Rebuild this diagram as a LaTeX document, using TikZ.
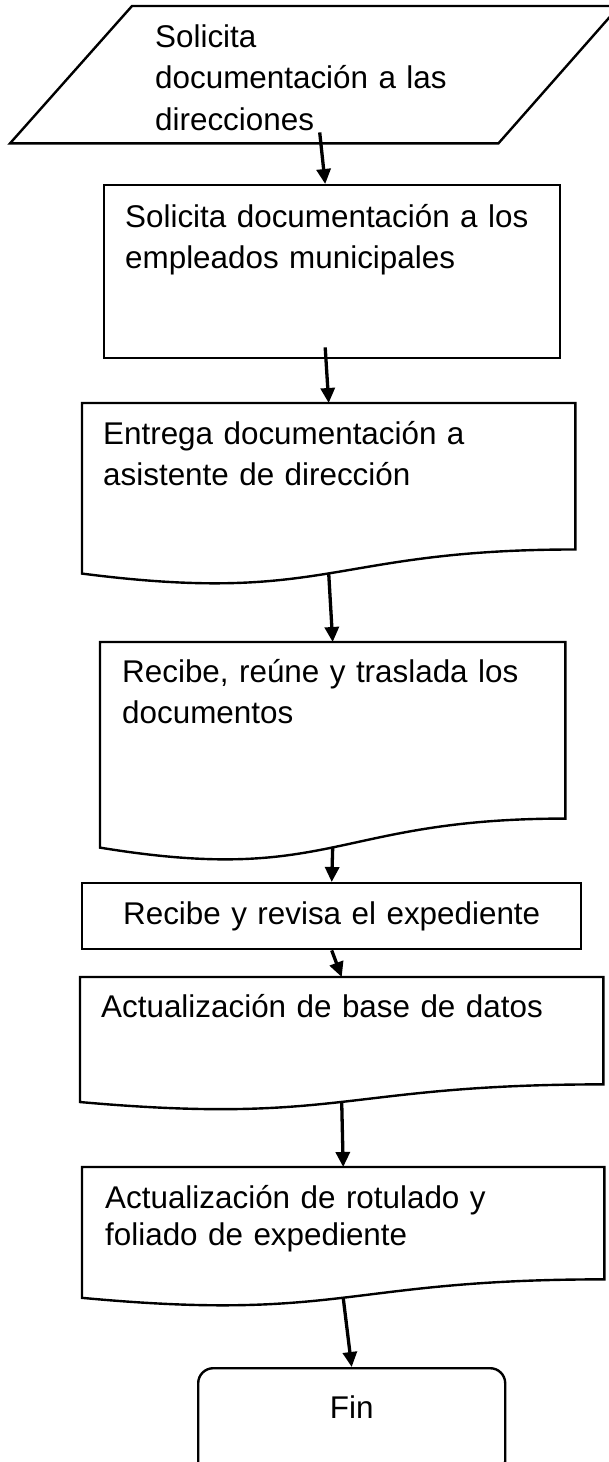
\documentclass[tikz,border=0pt]{standalone}
\usepackage{fontspec}
\setmainfont{Liberation Sans}
\usepackage{tikz}
\usetikzlibrary{arrows.meta,positioning,calc}
\tikzset{
  outline/.style={line width=2.4pt,line join=miter},
  shapenode/.style={anchor=north west,inner ysep=0pt,align=left,font=\fontsize{31.4pt}{41.5pt}\selectfont},
  flow/.style={line width=3.3pt,-{Triangle[width=14pt,length=15pt]}}
}
% outline of a document step: wavy bottom edge
\newcommand{\docoutline}[1]{%
  \draw[outline] (#1.north west) -- (#1.north east)
    -- ($(#1.north east)!0.8596!(#1.south east)$)
    .. controls ($(#1.north)!0.8596!(#1.south)$) and ($(#1.north)!1.187!(#1.south)$)
    .. ($(#1.north west)!1.001!(#1.south west)$) -- cycle;}

\begin{document}
\begin{tikzpicture}[x=1pt,y=-1pt]
\useasboundingbox (0,0) rectangle (609,1462);
\node[shapenode,inner xsep=145pt,text width=319pt,text height=41pt,text depth=96pt] (solicita) at (10,6) {Solicita\\documentación a las\\direcciones};
\draw[outline] ($(solicita.north west)+(122,0)$) -- (solicita.north east) -- ($(solicita.south east)+(-121,0)$) -- (solicita.south west) -- cycle;
\node[shapenode,draw,outline,inner xsep=21pt,text width=414pt,text height=42pt,text depth=131pt] (empleados) at (103,184) {Solicita documentación a los\\empleados municipales};
\node[shapenode,inner xsep=21pt,text width=451pt,text height=41pt,text depth=129pt] (entrega) at (82,403) {Entrega documentación a\\asistente de dirección};
\docoutline{entrega}
\node[shapenode,inner xsep=22pt,text width=421pt,text height=40pt,text depth=165pt] (recibe) at (100,642) {Recibe, reúne y traslada los\\documentos};
\docoutline{recibe}
\node[shapenode,draw,outline,align=center,inner xsep=0pt,text width=499pt,text height=41pt,text depth=25pt] (revisa) at (81,882) {Recibe y revisa el expediente};
\node[shapenode,inner xsep=21pt,text width=481pt,text height=40pt,text depth=84.5pt] (actbase) at (80,977) {Actualización de base de datos};
\docoutline{actbase}
\node[shapenode,font=\fontsize{31.4pt}{37pt}\selectfont,inner xsep=23pt,text width=476pt,text height=41pt,text depth=89.3pt] (rotulado) at (82,1167) {Actualización de rotulado y\\foliado de expediente};
\docoutline{rotulado}
\node[shapenode,draw,outline,rounded corners=15pt,align=center,inner xsep=0pt,text width=307pt,text height=50pt,text depth=58pt] (fin) at (197,1367) {Fin};
% connectors
\draw[flow] ($(solicita.south)+(5,-11)$) -- ($(empleados.north)+(-7,0)$);
\draw[flow] ($(empleados.south)+(-7,-12)$) -- (entrega.north);
\foreach \a/\b in {entrega/recibe,recibe/revisa,revisa/actbase,actbase/rotulado,rotulado/fin}
  \draw[flow] (\a.south) -- (\b.north);
\end{tikzpicture}
\end{document}
